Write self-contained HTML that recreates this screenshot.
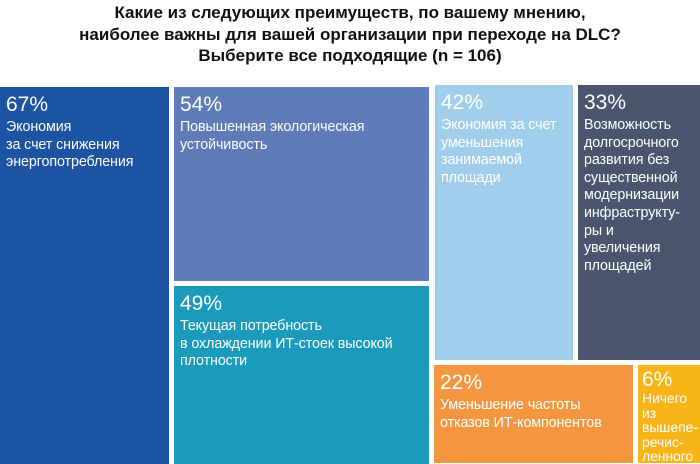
<!DOCTYPE html>
<html><head><meta charset="utf-8"><style>
body{margin:0;width:700px;height:464px;background:#fff;position:relative;overflow:hidden;font-family:"Liberation Sans",sans-serif}
.t{position:absolute;left:0;width:700px;top:2px;text-align:center;font-weight:bold;font-size:17px;line-height:21.5px;color:#111}
.b{position:absolute;color:#fff;box-sizing:border-box;padding:6px 0 0 6px;font-size:14.3px;line-height:17.6px;letter-spacing:-0.1px}
.b .p{font-size:21px;line-height:24px;letter-spacing:0;margin-bottom:2px}
</style></head><body>
<div class="t">Какие из следующих преимуществ, по вашему мнению,<br>наиболее важны для вашей организации при переходе на DLC?<br>Выберите все подходящие (n = 106)</div>
<div class="b" style="left:0;top:87px;width:169px;height:377px;background:#1c53a3"><div class="p">67%</div>Экономия<br>за счет снижения<br>энергопотребления</div>
<div class="b" style="left:174px;top:87px;width:255px;height:194px;background:#5f7bb9"><div class="p">54%</div>Повышенная экологическая<br>устойчивость</div>
<div class="b" style="left:174px;top:286px;width:255px;height:178px;background:#1a9bbb"><div class="p">49%</div>Текущая потребность<br>в охлаждении ИТ-стоек высокой<br>плотности</div>
<div class="b" style="left:435px;top:85px;width:138px;height:275px;background:#a0cde9"><div class="p">42%</div>Экономия за счет<br>уменьшения<br>занимаемой<br>площади</div>
<div class="b" style="left:578px;top:85px;width:122px;height:275px;background:#4b566e"><div class="p">33%</div>Возможность<br>долгосрочного<br>развития без<br>существенной<br>модернизации<br>инфраструкту-<br>ры и<br>увеличения<br>площадей</div>
<div class="b" style="left:434px;top:365px;width:199px;height:98px;background:#f3963f"><div class="p">22%</div>Уменьшение частоты<br>отказов ИТ-компонентов</div>
<div class="b" style="left:638px;top:365px;width:62px;height:98px;background:#f8b51a;padding:3px 0 0 4px;font-size:14px;line-height:14.6px"><div class="p" style="line-height:23px;margin-bottom:0">6%</div>Ничего<br>из<br>вышепе-<br>речис-<br>ленного</div>
</body></html>
